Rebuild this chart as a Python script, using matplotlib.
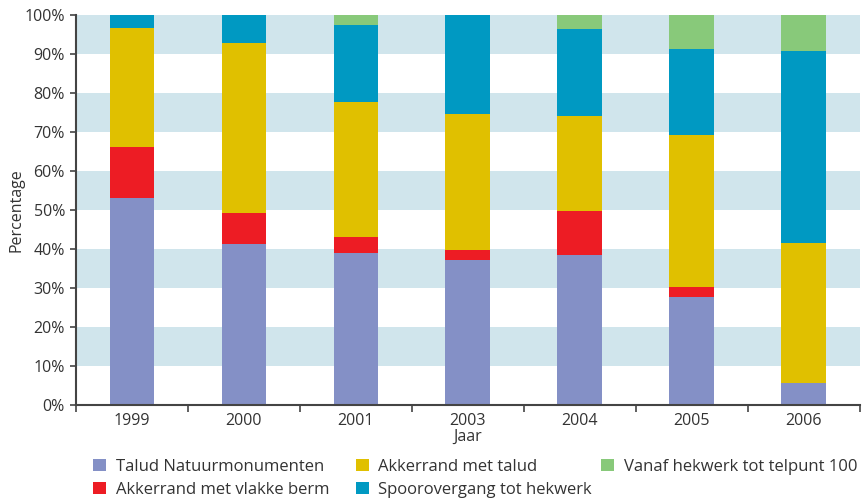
import numpy as np
import matplotlib
matplotlib.use('Agg')
import matplotlib.pyplot as plt
from matplotlib.patches import Patch

plt.rcParams['font.family'] = ['Open Sans', 'DejaVu Sans']

# data (percentages per year)
jaren = ['1999', '2000', '2001', '2003', '2004', '2005', '2006']
talud_nm = [53.1, 41.3, 39.0, 37.2, 38.5, 27.7, 5.6]
vlakke_berm = [13.1, 7.9, 4.1, 2.5, 11.2, 2.6, 0.0]
met_talud = [30.5, 43.5, 34.6, 34.9, 24.4, 38.9, 35.9]
spoorovergang = [3.3, 7.3, 19.7, 25.4, 22.3, 22.1, 49.3]
vanaf_hekwerk = [0.0, 0.0, 2.6, 0.0, 3.6, 8.7, 9.2]

series = [talud_nm, vlakke_berm, met_talud, spoorovergang, vanaf_hekwerk]
namen = ['Talud Natuurmonumenten', 'Akkerrand met vlakke berm', 'Akkerrand met talud',
         'Spoorovergang tot hekwerk', 'Vanaf hekwerk tot telpunt 100']
kleuren = ['#8490c6', '#ed1c24', '#e0c000', '#0099c2', '#88c97a']

tekst = '#333333'
fig = plt.figure(figsize=(8.64, 4.99), dpi=100)
ax = fig.add_axes([0.088, 0.1884, 0.907, 0.7816])

# lichtblauwe banden
for y0 in [10, 30, 50, 70, 90]:
    ax.axhspan(y0, y0 + 10, color='#d0e5ec', lw=0, zorder=0)

x = np.arange(len(jaren))
onder = np.zeros(len(jaren))
for waarden, naam, kleur in zip(series, namen, kleuren):
    ax.bar(x, waarden, width=0.4, bottom=onder, color=kleur, label=naam, zorder=2)
    onder += np.array(waarden)

ax.set_xlim(-0.5, len(jaren) - 0.5)
ax.set_ylim(0, 100)
ax.set_yticks(np.arange(0, 101, 10))
ax.set_yticklabels(['{}%'.format(v) for v in range(0, 101, 10)])

ax.set_xticks(np.arange(-0.5, len(jaren), 1.0))
ax.set_xticklabels([])
ax.set_xticks(x, minor=True)
ax.set_xticklabels(jaren, minor=True)
ax.tick_params(axis='x', which='minor', length=0, pad=6, labelsize=11.5, labelcolor=tekst)
ax.tick_params(axis='x', which='major', length=5, width=1.2, color='#444444')
ax.tick_params(axis='y', length=4, width=1.2, color='#444444', labelsize=11.5, labelcolor=tekst, pad=4)

for s in ['top', 'right']:
    ax.spines[s].set_visible(False)
for s in ['left', 'bottom']:
    ax.spines[s].set_color('#444444')
    ax.spines[s].set_linewidth(1.5)

ax.set_xlabel('Jaar', fontsize=11.5, color=tekst, labelpad=0)
ax.set_ylabel('Percentage', fontsize=11.5, color=tekst, labelpad=0)

# legenda in drie kolommen, elk apart geplaatst
kolommen = [([0, 1], 93), ([2, 3], 356), ([4], 601)]
for idx, xpix in kolommen:
    handles = [Patch(facecolor=kleuren[i], edgecolor='none') for i in idx]
    labels = [namen[i] for i in idx]
    fig.legend(handles, labels, loc='upper left',
               bbox_to_anchor=(xpix / 864, 1 - 459 / 499),
               frameon=False, fontsize=12, handlelength=0.75, handleheight=0.75,
               handletextpad=0.6, labelspacing=0.42, borderpad=0, borderaxespad=0,
               labelcolor=tekst)

fig.savefig('out.png', dpi=100)
